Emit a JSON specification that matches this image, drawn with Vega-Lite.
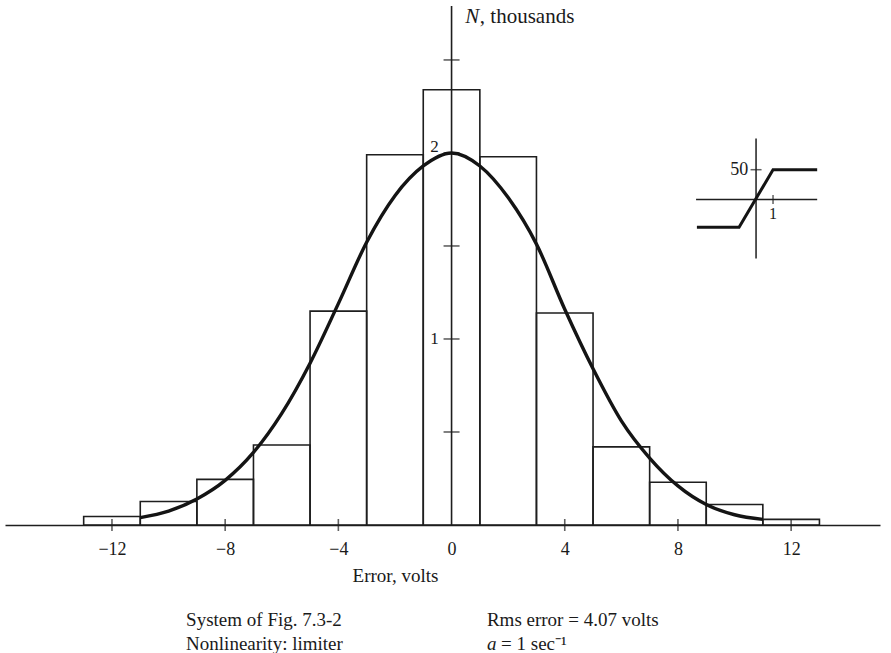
{
  "$schema": "https://vega.github.io/schema/vega-lite/v6.json",
  "width": 875,
  "height": 519,
  "padding": {"left": 5, "top": 5, "right": 6, "bottom": 0},
  "background": "white",
  "config": {
    "view": {"stroke": null},
    "font": "Liberation Serif",
    "text": {"font": "Liberation Serif", "color": "#1a1a1a"}
  },
  "datasets": {
    "bins": [
      {"lo": -13, "hi": -11, "n": 0.046},
      {"lo": -11, "hi": -9, "n": 0.126},
      {"lo": -9, "hi": -7, "n": 0.245},
      {"lo": -7, "hi": -5, "n": 0.43},
      {"lo": -5, "hi": -3, "n": 1.15},
      {"lo": -3, "hi": -1, "n": 1.99},
      {"lo": -1, "hi": 1, "n": 2.34},
      {"lo": 1, "hi": 3, "n": 1.98},
      {"lo": 3, "hi": 5, "n": 1.14},
      {"lo": 5, "hi": 7, "n": 0.42},
      {"lo": 7, "hi": 9, "n": 0.23},
      {"lo": 9, "hi": 11, "n": 0.11},
      {"lo": 11, "hi": 13, "n": 0.03}
    ],
    "fit": [
      {"e": -11, "n": 0.04},
      {"e": -10, "n": 0.075},
      {"e": -9, "n": 0.14},
      {"e": -8, "n": 0.24},
      {"e": -7, "n": 0.39},
      {"e": -6, "n": 0.6},
      {"e": -5, "n": 0.87},
      {"e": -4, "n": 1.19},
      {"e": -3, "n": 1.52},
      {"e": -2, "n": 1.77},
      {"e": -1, "n": 1.93},
      {"e": 0, "n": 2.0},
      {"e": 1, "n": 1.93},
      {"e": 2, "n": 1.76},
      {"e": 3, "n": 1.51},
      {"e": 4, "n": 1.16},
      {"e": 5, "n": 0.84},
      {"e": 6, "n": 0.56},
      {"e": 7, "n": 0.36},
      {"e": 8, "n": 0.21},
      {"e": 9, "n": 0.11},
      {"e": 10, "n": 0.055},
      {"e": 11, "n": 0.03}
    ],
    "xticks": [{"e": -12}, {"e": -8}, {"e": -4}, {"e": 4}, {"e": 8}, {"e": 12}],
    "yticks": [{"n": 0.5}, {"n": 1}, {"n": 1.5}, {"n": 2}, {"n": 2.5}],
    "ylabels": [{"n": 1, "label": "1"}, {"n": 2.03, "label": "2"}],
    "limiter": [
      {"u": 8.67, "v": 1.6, "k": 0},
      {"u": 10.16, "v": 1.6, "k": 1},
      {"u": 11.36, "v": 1.91, "k": 2},
      {"u": 12.92, "v": 1.91, "k": 3}
    ],
    "insetAxes": [
      {"u": 10.76, "v": 1.433, "u2": 10.76, "v2": 2.078},
      {"u": 8.64, "v": 1.75, "u2": 12.92, "v2": 1.75}
    ],
    "notes": [
      {"u": -9.38, "v": -0.513, "label": "System of Fig. 7.3-2"},
      {"u": -9.38, "v": -0.64, "label": "Nonlinearity:  limiter"},
      {"u": 1.25, "v": -0.513, "label": "Rms error = 4.07 volts"},
      {"u": 1.75, "v": -0.64, "label": "= 1 sec⁻¹"},
      {"u": 1.0, "v": 2.73, "label": ", thousands"}
    ],
    "italics": [
      {"u": 1.25, "v": -0.64, "label": "a", "size": 19},
      {"u": 0.48, "v": 2.73, "label": "N", "size": 21}
    ]
  },
  "layer": [
    {
      "data": {"name": "bins"},
      "mark": {"type": "rect", "fill": "white", "fillOpacity": 0, "stroke": "#1e1e1e", "strokeWidth": 1.6},
      "encoding": {
        "x": {
          "field": "lo", "type": "quantitative",
          "scale": {"domain": [-15.78, 15.14], "nice": false, "zero": false},
          "axis": {
            "values": [-12, -8, -4, 0, 4, 8, 12],
            "ticks": false,
            "grid": false,
            "domainColor": "#1e1e1e",
            "domainWidth": 1.6,
            "labelFont": "Liberation Serif",
            "labelFontSize": 18,
            "labelColor": "#1a1a1a",
            "labelPadding": 15,
            "title": "Error, volts",
            "titleFont": "Liberation Serif",
            "titleFontSize": 19,
            "titleFontWeight": "normal",
            "titleColor": "#1a1a1a",
            "titlePadding": 8,
            "titleX": 390
          }
        },
        "x2": {"field": "hi"},
        "y": {
          "field": "n", "type": "quantitative",
          "scale": {"domain": [0, 2.79], "nice": false, "zero": false},
          "axis": null
        },
        "y2": {"datum": 0}
      }
    },
    {
      "data": {"values": [{"e": 0, "n": 0, "n2": 2.79}]},
      "mark": {"type": "rule", "stroke": "#1e1e1e", "strokeWidth": 1.6},
      "encoding": {
        "x": {"field": "e", "type": "quantitative"},
        "y": {"field": "n", "type": "quantitative"},
        "y2": {"field": "n2"}
      }
    },
    {
      "data": {"name": "yticks"},
      "mark": {"type": "tick", "orient": "horizontal", "size": 16, "thickness": 1.6, "color": "#1e1e1e"},
      "encoding": {
        "x": {"datum": 0, "type": "quantitative"},
        "y": {"field": "n", "type": "quantitative"}
      }
    },
    {
      "data": {"name": "xticks"},
      "mark": {"type": "tick", "orient": "vertical", "size": 12, "thickness": 1.6, "color": "#1e1e1e"},
      "encoding": {
        "x": {"field": "e", "type": "quantitative"},
        "y": {"datum": 0, "type": "quantitative"}
      }
    },
    {
      "data": {"name": "ylabels"},
      "mark": {"type": "text", "fontSize": 17, "align": "center", "baseline": "middle"},
      "encoding": {
        "x": {"datum": -0.6, "type": "quantitative"},
        "y": {"field": "n", "type": "quantitative"},
        "text": {"field": "label"}
      }
    },
    {
      "data": {"name": "fit"},
      "mark": {"type": "line", "stroke": "#141414", "strokeWidth": 3.4, "interpolate": "monotone"},
      "encoding": {
        "x": {"field": "e", "type": "quantitative"},
        "y": {"field": "n", "type": "quantitative"}
      }
    },
    {
      "data": {"name": "insetAxes"},
      "mark": {"type": "rule", "stroke": "#1e1e1e", "strokeWidth": 1.5},
      "encoding": {
        "x": {"field": "u", "type": "quantitative"},
        "y": {"field": "v", "type": "quantitative"},
        "x2": {"field": "u2"},
        "y2": {"field": "v2"}
      }
    },
    {
      "data": {"values": [{"u": 10.76, "v": 1.91}]},
      "mark": {"type": "tick", "orient": "horizontal", "size": 11, "thickness": 1.5, "color": "#1e1e1e"},
      "encoding": {
        "x": {"field": "u", "type": "quantitative"},
        "y": {"field": "v", "type": "quantitative"}
      }
    },
    {
      "data": {"values": [{"u": 11.36, "v": 1.75}]},
      "mark": {"type": "tick", "orient": "vertical", "size": 9, "thickness": 1.5, "color": "#1e1e1e"},
      "encoding": {
        "x": {"field": "u", "type": "quantitative"},
        "y": {"field": "v", "type": "quantitative"}
      }
    },
    {
      "data": {"name": "limiter"},
      "mark": {"type": "line", "stroke": "#141414", "strokeWidth": 3, "strokeJoin": "miter"},
      "encoding": {
        "x": {"field": "u", "type": "quantitative"},
        "y": {"field": "v", "type": "quantitative"},
        "order": {"field": "k"}
      }
    },
    {
      "data": {"values": [{"u": 10.48, "v": 1.91, "label": "50"}]},
      "mark": {"type": "text", "fontSize": 18, "align": "right", "baseline": "middle"},
      "encoding": {
        "x": {"field": "u", "type": "quantitative"},
        "y": {"field": "v", "type": "quantitative"},
        "text": {"field": "label"}
      }
    },
    {
      "data": {"values": [{"u": 11.36, "v": 1.67, "label": "1"}]},
      "mark": {"type": "text", "fontSize": 16, "align": "center", "baseline": "middle"},
      "encoding": {
        "x": {"field": "u", "type": "quantitative"},
        "y": {"field": "v", "type": "quantitative"},
        "text": {"field": "label"}
      }
    },
    {
      "data": {"name": "notes"},
      "mark": {"type": "text", "fontSize": 19, "align": "left", "baseline": "middle"},
      "encoding": {
        "x": {"field": "u", "type": "quantitative"},
        "y": {"field": "v", "type": "quantitative"},
        "text": {"field": "label"},
        "size": {"condition": {"test": "datum.v > 0", "value": 21}, "value": 19}
      }
    },
    {
      "data": {"name": "italics"},
      "mark": {"type": "text", "fontStyle": "italic", "align": "left", "baseline": "middle"},
      "encoding": {
        "x": {"field": "u", "type": "quantitative"},
        "y": {"field": "v", "type": "quantitative"},
        "text": {"field": "label"},
        "size": {"field": "size", "type": "quantitative", "scale": null}
      }
    }
  ]
}
